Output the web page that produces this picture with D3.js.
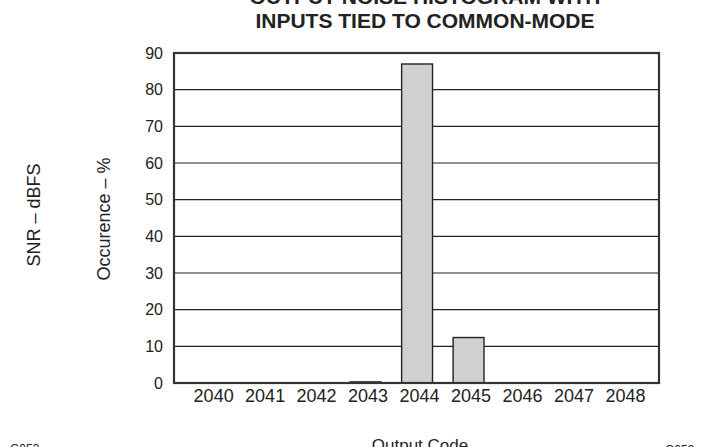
<!DOCTYPE html>
<html><head><meta charset="utf-8">
<script src="https://cdn.jsdelivr.net/npm/d3@7"></script>
<style>body{margin:0;background:#fff}svg{display:block}text{font-family:"Liberation Sans",Arial,sans-serif;fill:#222}</style>
</head><body>
<script>
const codes = [2040, 2041, 2042, 2043, 2044, 2045, 2046, 2047, 2048];
const occurrence = [0, 0, 0, 0.3, 87.0, 12.4, 0, 0, 0];
const yTicks = [0, 10, 20, 30, 40, 50, 60, 70, 80, 90];
const titleLines = ["OUTPUT NOISE HISTOGRAM WITH", "INPUTS TIED TO COMMON-MODE"];

const W = 725, H = 447;
const svg = d3.select("body").append("svg").attr("width", W).attr("height", H);
const L = 174, R = 659, T = 53, B = 383;
const x = d3.scaleLinear().domain([2039.24, 2048.66]).range([L, R]);
const y = d3.scaleLinear().domain([0, 90]).range([B, T]);
const bw = x(2040.6) - x(2040);

// gridlines
svg.append("g").selectAll("line").data(yTicks.slice(1, -1)).join("line")
  .attr("x1", L).attr("x2", R).attr("y1", d => y(d)).attr("y2", d => y(d))
  .attr("stroke", "#222").attr("stroke-width", 1.2);

// bars
svg.append("g").selectAll("rect").data(codes.map((c, i) => ({c, v: occurrence[i]})).filter(d => d.v > 0)).join("rect")
  .attr("x", d => x(d.c) - 2 - bw / 2).attr("width", bw)
  .attr("y", d => y(d.v)).attr("height", d => B - y(d.v))
  .attr("fill", "#d0d0d2").attr("stroke", "#222").attr("stroke-width", 1.4);

// frame
svg.append("rect").attr("x", L).attr("y", T).attr("width", R - L).attr("height", B - T)
  .attr("fill", "none").attr("stroke", "#333").attr("stroke-width", 2.2);

// y axis labels
const yAxis = d3.axisLeft(y).tickValues(yTicks).tickSize(0).tickPadding(11);
const gy = svg.append("g").attr("transform", `translate(${L},0)`).call(yAxis);
gy.select(".domain").remove();
gy.selectAll("text").style("font-size", "16px").attr("fill", "#222");

// x axis labels
const xAxis = d3.axisBottom(x).tickValues(codes).tickFormat(d3.format("d")).tickSize(0).tickPadding(6);
const gx = svg.append("g").attr("transform", `translate(0,${B})`).call(xAxis);
gx.select(".domain").remove();
gx.selectAll("text").style("font-size", "18px").attr("fill", "#222");

// title
svg.append("g").selectAll("text").data(titleLines).join("text")
  .attr("x", 425).attr("y", (d, i) => 4 + i * 24).attr("text-anchor", "middle")
  .style("font-size", "21px").style("font-weight", "bold")
  .text(d => d);

// axis titles
svg.append("text").attr("transform", "translate(40,215) rotate(-90)").attr("text-anchor", "middle")
  .style("font-size", "18px").text("SNR – dBFS");
svg.append("text").attr("transform", "translate(110,219) rotate(-90)").attr("text-anchor", "middle")
  .style("font-size", "18px").text("Occurence – %");

// bottom partial texts
svg.append("text").attr("x", 420).attr("y", 451).attr("text-anchor", "middle").style("font-size", "17px").text("Output Code");
svg.append("text").attr("x", 10).attr("y", 453).style("font-size", "12px").text("G053");
svg.append("text").attr("x", 665).attr("y", 454).style("font-size", "12px").text("G053");
</script>
</body></html>
